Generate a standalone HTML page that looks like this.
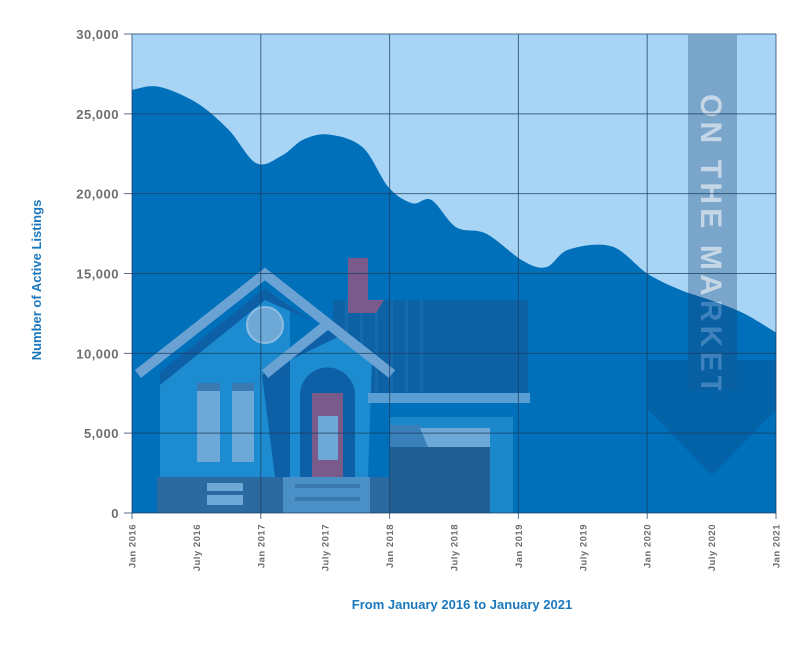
<!DOCTYPE html>
<html><head><meta charset="utf-8"><style>
body{margin:0;background:#fff;}
svg{display:block;font-family:"Liberation Sans",sans-serif;}
</style></head><body>
<svg id="chart" width="800" height="651" viewBox="0 0 800 651" xmlns="http://www.w3.org/2000/svg">
<defs><clipPath id="areaClip"><path id="areaClipPath"/></clipPath></defs>
<rect x="132" y="34" width="644" height="479" fill="#a8d5f5"/>
<rect x="688" y="35" width="49" height="355" fill="#7aa6cc"/>
<text transform="translate(701,94) rotate(90)" font-size="30" font-weight="bold" fill="#c5d6e6" textLength="300" lengthAdjust="spacing">ON THE MARKET</text>
<path id="area" fill="#0070bb"/>
<g clip-path="url(#areaClip)">
  <rect x="688" y="35" width="49" height="355" fill="#0a5c9c" opacity="0.8"/>
  <text transform="translate(701,94) rotate(90)" font-size="30" font-weight="bold" fill="#3d82bd" textLength="300" lengthAdjust="spacing">ON THE MARKET</text>
</g>
<g id="deco">
  <rect x="333" y="300" width="195" height="97" fill="#0d62a6"/>
  <g fill="#1569ad"><rect x="345" y="300" width="3" height="97"/><rect x="360" y="300" width="3" height="97"/><rect x="375" y="300" width="3" height="97"/><rect x="390" y="300" width="3" height="97"/><rect x="405" y="300" width="3" height="97"/><rect x="420" y="300" width="3" height="97"/></g>
  <rect x="348" y="258" width="20" height="55" fill="#7a5a8a"/>
  <polygon points="366,300 384,300 376,313 366,313" fill="#7a5a8a"/>
  <polygon points="160,372 265,288 290,305 290,478 160,478" fill="#1d8bd0"/>
  <polygon points="160,372 265,288 310,320 265,300 160,385" fill="#0d5fa6"/>
  <circle cx="265" cy="325" r="18" fill="#6ea8d6" stroke="#8dbde2" stroke-width="2"/>
  <rect x="197" y="383" width="23" height="79" fill="#6ea8d6"/>
  <rect x="232" y="383" width="22" height="79" fill="#6ea8d6"/>
  <rect x="197" y="383" width="23" height="8" fill="#3a78b0"/>
  <rect x="232" y="383" width="22" height="8" fill="#3a78b0"/>
  <polygon points="262,375 325,325 372,360 368,477 287,477" fill="#1d8bd0"/>
  <polygon points="262,375 325,325 340,336 290,360 290,477 275,477" fill="#0d5fa6"/>
  <path d="M300,477 V395 a27,27 0 0 1 55,0 V477 Z" fill="#0d5fa6"/>
  <rect x="312" y="393" width="31" height="84" fill="#7a5a8a"/>
  <rect x="318" y="416" width="20" height="44" fill="#6ea8d6"/>
  <rect x="368" y="393" width="162" height="10" fill="#5a9fd4"/>
  <rect x="390" y="417" width="123" height="96" fill="#1b88cc"/>
  <rect x="390" y="447" width="100" height="66" fill="#1f5f94"/>
  <polygon points="390,425 420,425 428,447 390,447" fill="#3a80ba"/>
  <polygon points="420,428 490,428 490,447 428,447" fill="#6ea8d6"/>
  <rect x="157" y="477" width="233" height="36" fill="#2a6aa0"/>
  <rect x="207" y="483" width="36" height="22" fill="#6ea8d6"/>
  <rect x="207" y="491" width="36" height="4" fill="#2a6aa0"/>
  <rect x="283" y="477" width="87" height="36" fill="#4a8fc6"/>
  <rect x="295" y="484" width="65" height="4" fill="#3a78b0"/>
  <rect x="295" y="497" width="65" height="4" fill="#3a78b0"/>
  <polyline points="138,374 265,274 392,374" fill="none" stroke="#6aa3d3" stroke-width="10"/>
  <polyline points="265,374 325,326" fill="none" stroke="#6aa3d3" stroke-width="10"/>
  <polygon points="648,360 688,360 688,390 737,390 737,360 776,360 776,410 712,475 648,410" fill="#0560a5" opacity="0.85"/>
</g>
<g id="grid"></g>
<g id="yaxis"></g>
<g id="xaxis"></g>
<text transform="translate(41,280) rotate(-90)" text-anchor="middle" font-size="13" font-weight="bold" fill="#1b78bd">Number of Active Listings</text>
<text x="462" y="609" text-anchor="middle" font-size="13" font-weight="bold" fill="#1b78bd">From January 2016 to January 2021</text>
</svg>
<script>
const months = [0, 2.5, 6, 9, 11.6, 14, 16, 18.4, 21.5, 23.9, 26.1, 27.9, 30.2, 33, 36.4, 38.6, 40.7, 44.7, 48, 51, 54, 57, 60];
const listings = [26500, 26700, 25700, 24000, 21900, 22400, 23400, 23700, 22900, 20400, 19400, 19600, 17900, 17500, 15800, 15400, 16500, 16700, 15000, 14000, 13300, 12500, 11300];
const yTicks = [0, 5000, 10000, 15000, 20000, 25000, 30000];
const yTickLabels = ["0", "5,000", "10,000", "15,000", "20,000", "25,000", "30,000"];
const xTickMonths = [0, 6, 12, 18, 24, 30, 36, 42, 48, 54, 60];
const xTickLabels = ["Jan 2016", "July 2016", "Jan 2017", "July 2017", "Jan 2018", "July 2018", "Jan 2019", "July 2019", "Jan 2020", "July 2020", "Jan 2021"];

const X0 = 132, X1 = 776, Y0 = 513, Y1 = 34;
const xs = m => X0 + (X1 - X0) * m / 60;
const ys = v => Y0 - (Y0 - Y1) * v / 30000;
const NS = "http://www.w3.org/2000/svg";

let pts = months.map((m, i) => [xs(m), ys(listings[i])]);
let d = `M${X0},${Y0} L${pts[0][0]},${pts[0][1]}`;
for (let i = 0; i < pts.length - 1; i++) {
  const p0 = pts[Math.max(0, i - 1)], p1 = pts[i], p2 = pts[i + 1], p3 = pts[Math.min(pts.length - 1, i + 2)];
  const c1 = [p1[0] + (p2[0] - p0[0]) / 6, p1[1] + (p2[1] - p0[1]) / 6];
  const c2 = [p2[0] - (p3[0] - p1[0]) / 6, p2[1] - (p3[1] - p1[1]) / 6];
  d += ` C${c1[0]},${c1[1]} ${c2[0]},${c2[1]} ${p2[0]},${p2[1]}`;
}
d += ` L${X1},${Y0} Z`;
document.getElementById('area').setAttribute('d', d);
document.getElementById('areaClipPath').setAttribute('d', d);

const grid = document.getElementById('grid');
const yax = document.getElementById('yaxis');
const xax = document.getElementById('xaxis');
yTicks.forEach((v, i) => {
  const y = ys(v);
  const l = document.createElementNS(NS, 'line');
  
  
  l.setAttribute('x1', 124); l.setAttribute('x2', X1);
  l.setAttribute('y1', y); l.setAttribute('y2', y);
  l.setAttribute('stroke', '#1c3d60'); l.setAttribute('stroke-opacity', '0.75'); l.setAttribute('stroke-width', '1');
  grid.appendChild(l);
  const t = document.createElementNS(NS, 'text');
  
  
  t.setAttribute('x', 119); t.setAttribute('y', y + 5);
  t.setAttribute('text-anchor', 'end'); t.setAttribute('font-size', '13'); t.setAttribute('font-weight', 'bold');
  t.setAttribute('fill', '#6d6e71'); t.setAttribute('letter-spacing', '0.5');
  t.textContent = yTickLabels[i];
  yax.appendChild(t);
});
xTickMonths.forEach((m, i) => {
  const x = xs(m);
  const l = document.createElementNS(NS, 'line');
  
  
  l.setAttribute('x1', x); l.setAttribute('x2', x);
  l.setAttribute('y1', Y1); l.setAttribute('y2', i % 2 === 0 ? 519 : Y0);
  l.setAttribute('stroke', '#1c3d60');
  l.setAttribute('stroke-opacity', i % 2 === 0 ? '0.75' : '0');
  grid.appendChild(l);
  const t = document.createElementNS(NS, 'text');
  
  
  t.setAttribute('transform', `translate(${x + 3.5},524) rotate(-90)`);
  t.setAttribute('text-anchor', 'end'); t.setAttribute('font-size', '9.5'); t.setAttribute('font-weight', 'bold');
  t.setAttribute('fill', '#6d6e71'); t.setAttribute('letter-spacing', '0.5');
  t.textContent = xTickLabels[i];
  xax.appendChild(t);
});
</script>
</body></html>
